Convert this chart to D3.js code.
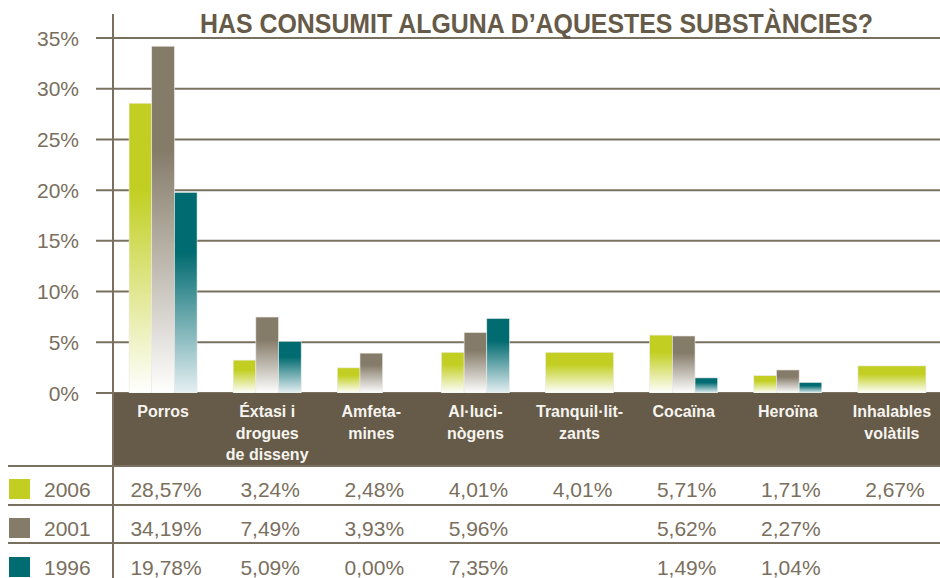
<!DOCTYPE html>
<html>
<head>
<meta charset="utf-8">
<script src="https://cdn.jsdelivr.net/npm/d3@7"></script>
<style>
  body { margin: 0; background: #fff; }
  svg { display: block; }
</style>
</head>
<body>
<div class="canvas"></div>
<script>
// chart data
const categories = ['Porros', 'Éxtasi i drogues de disseny', 'Amfetamines', 'Al·lucinògens',
  'Tranquil·litzants', 'Cocaïna', 'Heroïna', 'Inhalables volàtils'];
const headerLines = [['Porros'], ['Éxtasi i', 'drogues', 'de disseny'], ['Amfeta-', 'mines'],
  ['Al·luci-', 'nògens'], ['Tranquil·lit-', 'zants'], ['Cocaïna'], ['Heroïna'], ['Inhalables', 'volàtils']];
const years = ['2006', '2001', '1996'];
const values2006 = [28.57, 3.24, 2.48, 4.01, 4.01, 5.71, 1.71, 2.67];
const values2001 = [34.19, 7.49, 3.93, 5.96, null, 5.62, 2.27, null];
const values1996 = [19.78, 5.09, 0.00, 7.35, null, 1.49, 1.04, null];
const yTicks = [0, 5, 10, 15, 20, 25, 30, 35];
const title = 'HAS CONSUMIT ALGUNA D’AQUESTES SUBSTÀNCIES?';

const series = [values2006, values2001, values1996];
const colors = { '2006': ['#c2cf22', '#ffffff'], '2001': ['#857b69', '#ffffff'], '1996': ['#006b70', '#e6f0f3'] };
const brown = '#665a48';
const lineCol = '#7a705f';
const textCol = '#7a6f5e';

const width = 940, height = 578;
const svg = d3.select('.canvas')
  .append('svg')
    .attr('width', width)
    .attr('height', height);

// gradients for bars
const defs = svg.append('defs');
years.forEach(yr => {
  const g = defs.append('linearGradient')
    .attr('id', 'grad' + yr)
    .attr('x1', 0).attr('y1', 0).attr('x2', 0).attr('y2', 1);
  g.append('stop').attr('offset', '0%').attr('stop-color', colors[yr][0]);
  g.append('stop').attr('offset', '30%').attr('stop-color', colors[yr][0]);
  g.append('stop').attr('offset', '100%').attr('stop-color', colors[yr][1]);
});

// scales
const y = d3.scaleLinear().domain([0, 35]).range([393, 38]);
const x0 = d3.scaleBand().domain(categories).range([111, 944]);
const groupW = 68;
const x1 = d3.scaleBand().domain(years).range([0, groupW]);
const groupX = c => x0(c) + (x0.bandwidth() - groupW) / 2;

// gridlines + y labels
svg.append('g').selectAll('line')
  .data(yTicks)
  .enter().append('line')
    .attr('x1', 96).attr('x2', width)
    .attr('y1', d => y(d)).attr('y2', d => y(d))
    .attr('stroke', lineCol)
    .attr('stroke-width', 2);

svg.append('g').selectAll('text')
  .data(yTicks)
  .enter().append('text')
    .attr('x', 79)
    .attr('y', d => y(d) + 7.5)
    .attr('text-anchor', 'end')
    .attr('font-family', 'Liberation Sans, Arial')
    .attr('font-size', '21px')
    .attr('fill', textCol)
    .text(d => d + '%');

// title
svg.append('text')
  .attr('x', 200)
  .attr('y', 33)
  .attr('font-family', 'Liberation Sans Narrow, Liberation Sans, Arial')
  .attr('font-weight', 'bold')
  .attr('font-size', '27px')
  .attr('fill', brown)
  .attr('textLength', 673)
  .attr('lengthAdjust', 'spacingAndGlyphs')
  .text(title);

// bars
const barData = [];
categories.forEach((c, i) => {
  const present = years.filter((yr, k) => series[k][i] !== null);
  years.forEach((yr, k) => {
    const v = series[k][i];
    if (v === null || v === 0) return;
    const wide = present.length === 1;
    barData.push({
      cat: c, year: yr, value: v,
      x: wide ? groupX(c) : groupX(c) + x1(yr),
      w: wide ? groupW : x1.bandwidth()
    });
  });
});

svg.append('g').selectAll('rect')
  .data(barData)
  .enter().append('rect')
    .attr('x', d => d.x)
    .attr('y', d => y(d.value))
    .attr('width', d => d.w)
    .attr('height', d => y(0) - y(d.value))
    .attr('fill', d => `url(#grad${d.year})`)
    .attr('stroke', '#ece9e4')
    .attr('stroke-width', 0.6);

// header band
svg.append('rect')
  .attr('x', 113).attr('y', 393)
  .attr('width', width - 113).attr('height', 73)
  .attr('fill', brown);

const heads = svg.append('g').selectAll('text')
  .data(categories)
  .enter().append('text')
    .attr('text-anchor', 'middle')
    .attr('font-family', 'Liberation Sans, Arial')
    .attr('font-weight', 'bold')
    .attr('font-size', '16px')
    .attr('fill', '#f6f4ef');
heads.each(function(c, i) {
  d3.select(this).selectAll('tspan')
    .data(headerLines[i])
    .enter().append('tspan')
      .attr('x', x0(c) + x0.bandwidth() / 2)
      .attr('y', (d, j) => 417 + j * 21.5)
      .text(d => d);
});

// table rows
const rowBase = [497, 536, 575];
[466, 505, 543].forEach(ly => {
  svg.append('line')
    .attr('x1', 8).attr('x2', width)
    .attr('y1', ly).attr('y2', ly)
    .attr('stroke', lineCol)
    .attr('stroke-width', 2);
});

// axis vertical line
svg.append('line')
  .attr('x1', 113).attr('x2', 113)
  .attr('y1', 14).attr('y2', height)
  .attr('stroke', lineCol)
  .attr('stroke-width', 2);

const fmt = v => v.toFixed(2).replace('.', ',') + '%';
years.forEach((yr, k) => {
  const row = svg.append('g');
  row.append('rect')
    .attr('x', 9).attr('y', rowBase[k] - 18)
    .attr('width', 21).attr('height', 20)
    .attr('fill', colors[yr][0]);
  row.append('text')
    .attr('x', 44).attr('y', rowBase[k])
    .attr('font-family', 'Liberation Sans, Arial')
    .attr('font-size', '21px')
    .attr('fill', textCol)
    .text(yr);
  row.selectAll('text.val')
    .data(categories.map((c, i) => ({ c, v: series[k][i] })).filter(d => d.v !== null))
    .enter().append('text')
      .attr('class', 'val')
      .attr('x', d => x0(d.c) + x0.bandwidth() / 2 + 3)
      .attr('y', rowBase[k])
      .attr('text-anchor', 'middle')
      .attr('font-family', 'Liberation Sans, Arial')
      .attr('font-size', '21px')
      .attr('fill', textCol)
      .text(d => fmt(d.v));
});
</script>
</body>
</html>
